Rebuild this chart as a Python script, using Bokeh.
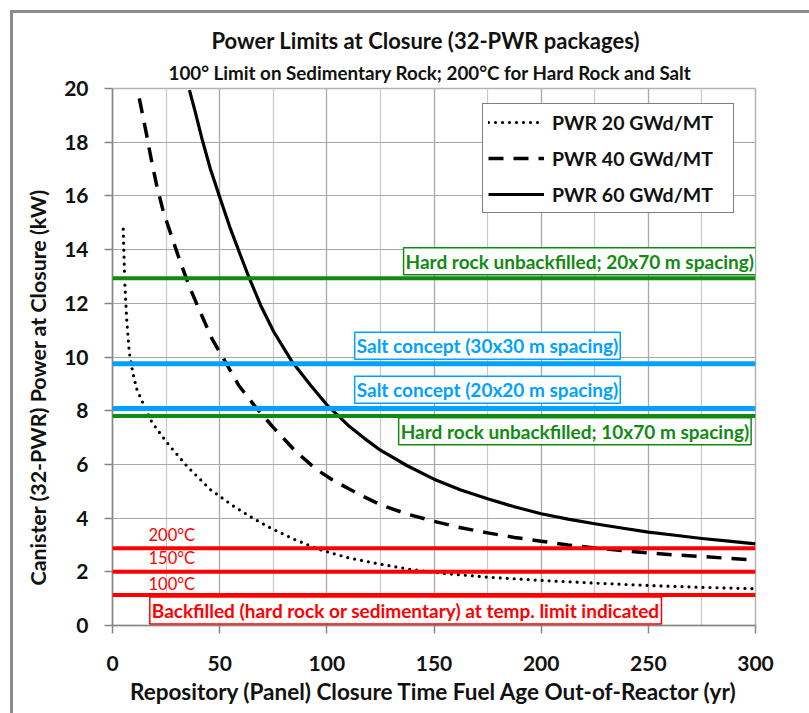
from bokeh.plotting import figure
from bokeh.models import (Range1d, SingleIntervalTicker, Label, Legend, LegendItem,
                          Span, Title)
from bokeh.embed import file_html
from bokeh.resources import INLINE

# ---- data ----
age_pwr20 = [5.0, 5.3, 5.8, 6.6, 7.8, 9.4, 11.25, 13.6, 18.3, 25.5, 34.8, 45.7, 56.6, 65, 74, 85, 97, 110, 124, 138, 153, 175, 200, 225, 250, 275, 300]
pow_pwr20 = [14.76, 13.91, 12.67, 11.43, 10.19, 9.44, 8.82, 8.39, 7.58, 6.8, 5.93, 5.06, 4.44, 4.02, 3.62, 3.2, 2.82, 2.52, 2.3, 2.1, 1.95, 1.8, 1.68, 1.58, 1.49, 1.42, 1.37]

age_pwr40 = [12.5, 14.4, 16.25, 18.3, 20.6, 23.75, 27.7, 31.6, 36.25, 40.9, 46.4, 52.7, 58.9, 66.7, 75, 85, 95, 102.5, 110, 117.5, 125, 137.5, 150, 162.5, 175, 187.5, 200, 212.5, 225, 237.5, 250, 262.5, 275, 287.5, 300]
pow_pwr40 = [19.63, 18.88, 18.14, 17.27, 16.4, 15.4, 14.47, 13.54, 12.55, 11.68, 10.68, 9.81, 8.94, 8.14, 7.38, 6.52, 5.82, 5.43, 5.1, 4.79, 4.5, 4.15, 3.88, 3.64, 3.45, 3.28, 3.14, 3.0, 2.89, 2.79, 2.7, 2.63, 2.57, 2.5, 2.43]

age_pwr60 = [35.9, 38.6, 41.7, 45.6, 50, 55, 59.7, 63.6, 69.1, 75.3, 83.9, 92.5, 100, 110, 117.5, 125, 137.5, 150, 162.5, 175, 187.5, 200, 212.5, 225, 237.5, 250, 262.5, 275, 287.5, 300]
pow_pwr60 = [19.94, 19.13, 18.14, 17.02, 15.96, 14.78, 13.79, 12.98, 11.93, 10.93, 9.81, 8.94, 8.22, 7.45, 6.97, 6.53, 5.95, 5.45, 5.05, 4.72, 4.42, 4.16, 3.96, 3.79, 3.63, 3.48, 3.36, 3.24, 3.14, 3.04]

series_labels = ["PWR 20 GWd/MT", "PWR 40 GWd/MT", "PWR 60 GWd/MT"]

limit_hard_20x70 = 12.93
limit_salt_30x30 = 9.75
limit_salt_20x20 = 8.08
limit_hard_10x70 = 7.8
limit_200C = 2.88
limit_150C = 2.0
limit_100C = 1.14

GREEN = "#128a12"
BLUE = "#00a2ff"
RED = "#ff0000"
FONT = "Lato"
INK = "#111111"

p = figure(width=809, height=713, output_backend="svg", toolbar_location=None,
           x_range=Range1d(0, 300), y_range=Range1d(0, 20),
           min_border_left=112, min_border_right=54, min_border_top=88, min_border_bottom=88)
p.background_fill_color = "white"
p.border_fill_color = "white"
p.border_fill_alpha = 0
p.styles = {"background": "linear-gradient(#8c8c8c,#8c8c8c) 10px 10px / 820px 3px no-repeat, "
                          "linear-gradient(#8c8c8c,#8c8c8c) 10px 10px / 3px 720px no-repeat, #ffffff"}
p.outline_line_color = "#b4b4b4"
p.outline_line_width = 1.5

# axes / ticks
p.xaxis.ticker = SingleIntervalTicker(interval=50, num_minor_ticks=2)
p.yaxis.ticker = SingleIntervalTicker(interval=2, num_minor_ticks=0)
for ax in (p.xaxis, p.yaxis):
    ax.axis_line_color = "#868686"
    ax.axis_line_width = 1.5
    ax.major_tick_line_color = "#868686"
    ax.major_tick_line_width = 1.5
    ax.major_tick_out = 8
    ax.major_tick_in = 0
    ax.minor_tick_line_color = None
    ax.major_label_text_font = FONT
    ax.major_label_text_font_style = "bold"
    ax.major_label_text_font_size = "21px"
    ax.major_label_text_color = INK
    ax.axis_label_text_font = FONT
    ax.axis_label_text_font_style = "bold"
    ax.axis_label_text_color = INK
p.xaxis.major_label_standoff = 22
p.yaxis.major_label_standoff = 16
p.xaxis.axis_label = "Repository (Panel) Closure Time Fuel Age Out-of-Reactor (yr)"
p.xaxis.axis_label_text_font_size = "22.5px"
p.xaxis.axis_label_standoff = 4

# y-axis title (left-side title, starting a little above the frame bottom)
p.add_layout(Title(text="Canister (32-PWR) Power at Closure (kW)",
                   align="left", offset=40, standoff=21,
                   text_font=FONT, text_font_style="bold", text_font_size="21.4px",
                   text_color=INK), "left")

p.xgrid.grid_line_color = "#a8a8a8"
p.xgrid.grid_line_width = 1.2
p.xgrid.minor_grid_line_color = "#c8c8c8"
p.xgrid.minor_grid_line_width = 1.2
p.ygrid.grid_line_color = "#a8a8a8"
p.ygrid.grid_line_width = 1.2

# limit lines
for loc, col, w in [(limit_hard_20x70, GREEN, 4), (limit_salt_30x30, BLUE, 5),
                    (limit_salt_20x20, BLUE, 5), (limit_hard_10x70, GREEN, 4),
                    (limit_200C, RED, 4), (limit_150C, RED, 4), (limit_100C, RED, 4)]:
    p.add_layout(Span(location=loc, dimension="width", line_color=col, line_width=w))

# curves
r20 = p.line(age_pwr20, pow_pwr20, line_color="black", line_width=3.2,
             line_dash="0 7", line_cap="round", line_join="round")
r40 = p.line(age_pwr40, pow_pwr40, line_color="black", line_width=3.5,
             line_dash="15 10", line_join="round")
r60 = p.line(age_pwr60, pow_pwr60, line_color="black", line_width=3.2, line_join="round")

legend = Legend(items=[LegendItem(label=series_labels[0], renderers=[r20]),
                       LegendItem(label=series_labels[1], renderers=[r40]),
                       LegendItem(label=series_labels[2], renderers=[r60])],
                location=(370, 412), orientation="vertical",
                label_text_font=FONT, label_text_font_style="bold",
                label_text_font_size="19.5px", label_text_color=INK,
                glyph_width=56, glyph_height=26, label_height=26, label_width=176,
                spacing=10, padding=5, margin=0, label_standoff=8,
                border_line_color="black", border_line_width=1,
                background_fill_color="white", background_fill_alpha=1)
p.add_layout(legend)


def boxed(x, y, text, color, size="19px", style="bold", border=True):
    lab = Label(x=x, y=y, text=text, text_color=color, text_font=FONT,
                text_font_style=style, text_font_size=size,
                text_align="left", text_baseline="middle")
    if border:
        lab.border_line_color = color
        lab.border_line_width = 1.5
        lab.background_fill_color = "white"
        lab.padding = 2
    p.add_layout(lab)


boxed(135.8, 13.57, "Hard rock unbackfilled; 20x70 m spacing)", GREEN)
boxed(113.0, 10.42, "Salt concept (30x30 m spacing)", BLUE)
boxed(113.0, 8.78, "Salt concept (20x20 m spacing)", BLUE)
boxed(133.5, 7.23, "Hard rock unbackfilled; 10x70 m spacing)", GREEN)
boxed(16.8, 3.38, "200°C", RED, size="16.5px", style="normal", border=False)
boxed(16.8, 2.5, "150°C", RED, size="16.5px", style="normal", border=False)
boxed(16.8, 1.56, "100°C", RED, size="16.5px", style="normal", border=False)
boxed(17.4, 0.56, "Backfilled (hard rock or sedimentary) at temp. limit indicated", RED)

# titles (subtitle first = closest to the frame)
p.add_layout(Title(text="100° Limit on Sedimentary Rock; 200°C for Hard Rock and Salt",
                   align="left", offset=56, standoff=9,
                   text_font=FONT, text_font_style="bold", text_font_size="18.8px",
                   text_color=INK), "above")
p.add_layout(Title(text="Power Limits at Closure (32-PWR packages)",
                   align="left", offset=99, standoff=2,
                   text_font=FONT, text_font_style="bold", text_font_size="22px",
                   text_color=INK), "above")

open("out.html", "w").write(file_html(p, INLINE))
